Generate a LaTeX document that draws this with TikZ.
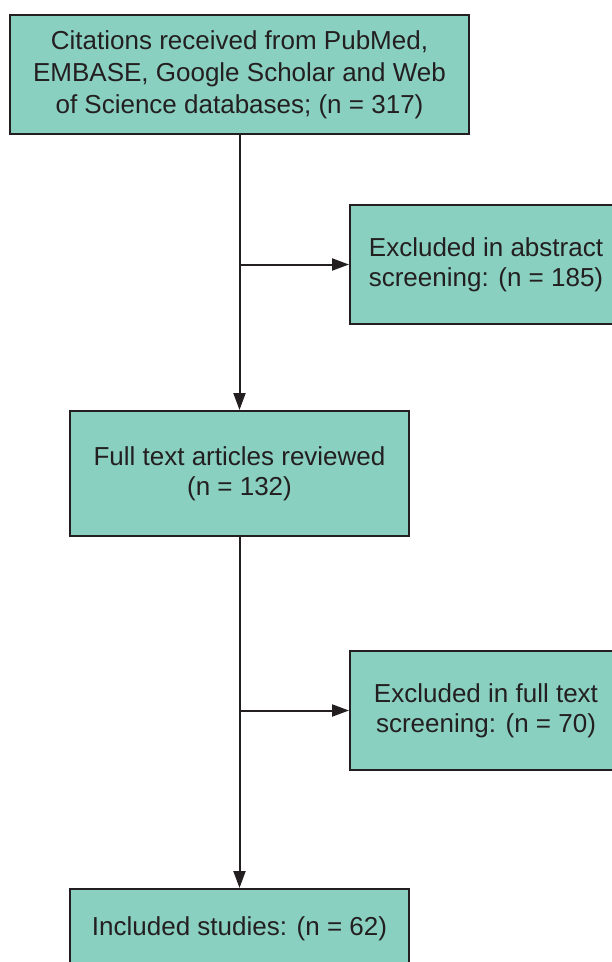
\documentclass[tikz,border=0pt]{standalone}
\usepackage{fontspec}
\setmainfont{Liberation Sans}
\usetikzlibrary{arrows.meta}

\definecolor{boxfill}{RGB}{137,208,192}
\definecolor{inkline}{RGB}{35,31,32}

\begin{document}
\begin{tikzpicture}[x=1pt, y=-1pt,
  stage/.style={draw=inkline, line width=2pt, fill=boxfill, align=center,
                inner sep=0pt, text=inkline,
                font=\fontsize{26}{30}\selectfont},
  every edge/.style={draw=inkline, line width=2pt,
                     -{Triangle[length=17pt, width=12pt]}}
]
  \useasboundingbox (0,0) rectangle (612,962);
  \clip (0,0) rectangle (612,962);

  % main column
  \node[stage, font=\fontsize{26}{32}\selectfont,
        minimum width=459pt, minimum height=119pt] (cit) at (239.5,74.5)
    {Citations received from PubMed,\\EMBASE, Google Scholar and Web\\of Science databases; (n = 317)};
  \node[stage, minimum width=339pt, minimum height=125pt] (full) at (239.5,473.5)
    {Full text articles reviewed\\(n = 132)};
  \node[stage, minimum width=339pt, minimum height=80pt] (incl) at (239.5,929)
    {Included studies: (n = 62)};

  % exclusions on the right
  \node[stage, minimum width=272pt, minimum height=119pt] (exabs) at (486,264.5)
    {Excluded in abstract\\screening: (n = 185)};
  \node[stage, minimum width=272pt, minimum height=119pt] (exfull) at (486,710.5)
    {Excluded in full text\\screening: (n = 70)};

  \coordinate (s1) at (cit.south |- exabs.west);
  \coordinate (s2) at (full.south |- exfull.west);

  \draw (cit.south) edge (full.north);
  \draw (full.south) edge (incl.north);
  \draw (s1) edge (exabs.west);
  \draw (s2) edge (exfull.west);
\end{tikzpicture}
\end{document}
